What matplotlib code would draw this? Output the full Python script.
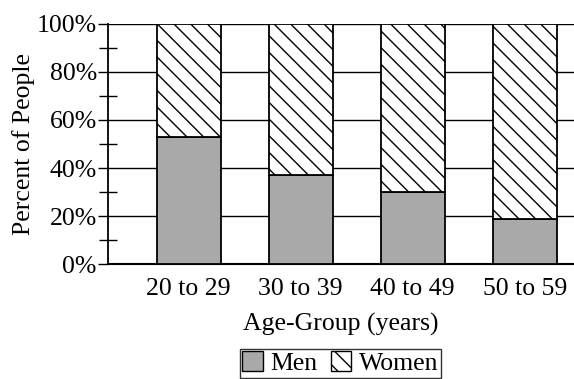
import matplotlib
matplotlib.use("Agg")
import matplotlib.pyplot as plt
from matplotlib.patches import Patch
from matplotlib.ticker import MultipleLocator, FuncFormatter

# values (percent of people)
age_groups = ["20 to 29", "30 to 39", "40 to 49", "50 to 59"]
men = [53, 37, 30, 19]
women = [100 - m for m in men]

plt.rcParams['font.family'] = ['Liberation Serif', 'DejaVu Serif']
plt.rcParams['hatch.linewidth'] = 1.0

fs = 18.5
fig = plt.figure(figsize=(5.74, 3.79), dpi=100)
ax = fig.add_axes([0.188, 0.303, 0.812, 0.634])

x = range(len(age_groups))
ax.bar(x, men, width=0.57, color='#a9a9a9', edgecolor='black', linewidth=1.3, zorder=3)
ax.bar(x, women, width=0.57, bottom=men, color='white', edgecolor='black',
       hatch='\\\\', linewidth=1.3, zorder=3)

ax.set_xlim(-0.72, 3.44)
ax.set_ylim(0, 100)
ax.yaxis.set_major_locator(MultipleLocator(20))
ax.yaxis.set_minor_locator(MultipleLocator(10))
ax.yaxis.set_major_formatter(FuncFormatter(lambda v, p: f"{int(v)}%"))
ax.grid(axis='y', which='major', color='black', linewidth=1.0, zorder=0)

ax.set_xticks(list(x))
ax.set_xticklabels(age_groups, fontsize=fs)
ax.tick_params(axis='x', length=0, pad=10)
ax.tick_params(axis='y', which='major', length=7, width=1.0, direction='out', labelsize=fs, pad=1)
ax.tick_params(axis='y', which='minor', length=13, width=1.0, direction='inout')

for s in ['top', 'right']:
    ax.spines[s].set_visible(False)
ax.spines['left'].set_linewidth(1.3)
ax.spines['bottom'].set_linewidth(1.5)

ax.set_ylabel('Percent of People', fontsize=fs, labelpad=1)
ax.set_xlabel('Age-Group (years)', fontsize=fs, labelpad=9)

handles = [Patch(facecolor='#a9a9a9', edgecolor='black', label='Men'),
           Patch(facecolor='white', edgecolor='black', hatch='\\\\', label='Women')]
fig.legend(handles=handles, loc='lower center', bbox_to_anchor=(0.593, 0.0), ncol=2,
           fontsize=fs, frameon=True, fancybox=False, edgecolor='black',
           handlelength=0.8, handleheight=0.8, handletextpad=0.3, columnspacing=0.5,
           borderpad=0.1, borderaxespad=0.05)

fig.savefig('out.png', dpi=100)
